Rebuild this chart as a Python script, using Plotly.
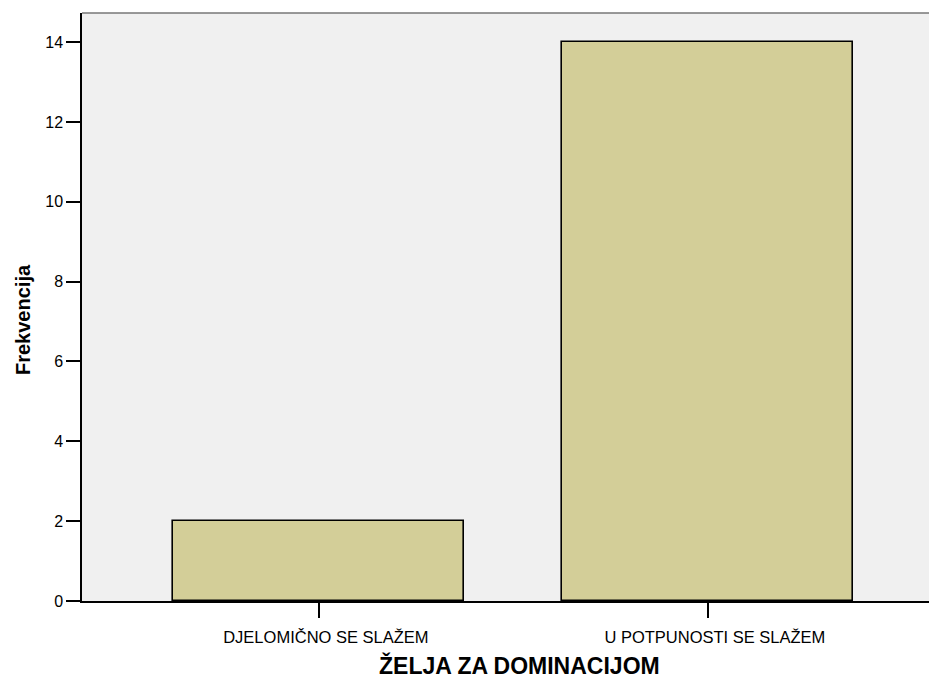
import plotly.graph_objects as go

# categories and frequencies
categories = ["DJELOMIČNO SE SLAŽEM", "U POTPUNOSTI SE SLAŽEM"]
frequencies = [2, 14]
y_ticks = [0, 2, 4, 6, 8, 10, 12, 14]
x_title = "ŽELJA ZA DOMINACIJOM"
y_title = "Frekvencija"

fig = go.Figure()
fig.add_trace(go.Bar(
    x=categories,
    y=frequencies,
    width=0.748,
    marker=dict(color="#D3CE98", line=dict(color="#000000", width=1.6)),
))

# the page body adds an 8px margin, so the figure is a bit smaller and shifted
fig.update_layout(
    width=929,
    height=676,
    margin=dict(l=74, r=0, t=5, b=83),
    paper_bgcolor="white",
    plot_bgcolor="#F0F0F0",
    font=dict(family="Liberation Sans, Arial", color="#000000"),
    showlegend=False,
    bargap=0,
)

fig.update_xaxes(
    range=[-0.609, 1.589],
    showline=True, linecolor="#000000", linewidth=1.5,
    ticks="outside", ticklen=15, tickwidth=2, tickcolor="#000000",
    tickfont=dict(size=16.5),
    ticklabelstandoff=5,
    ticklabelshift=7,
    showgrid=False,
)
fig.update_yaxes(
    range=[0, 14.73],
    tickvals=y_ticks,
    showline=True, linecolor="#000000", linewidth=1.5,
    ticks="outside", ticklen=14, tickwidth=1.5, tickcolor="#000000",
    tickfont=dict(size=16),
    ticklabelstandoff=0,
    showgrid=False, zeroline=False,
)

# axis titles are a bit off-centre in the original, so they are annotations
fig.add_annotation(text="<b>" + x_title + "</b>", xref="paper", yref="paper",
                   x=0.5, y=0, xanchor="center", yanchor="middle",
                   xshift=10, yshift=-64, showarrow=False, font=dict(size=23))
fig.add_annotation(text="<b>" + y_title + "</b>", xref="paper", yref="paper",
                   x=0, y=0.5, xanchor="center", yanchor="middle", textangle=-90,
                   xshift=-59, yshift=-13, showarrow=False, font=dict(size=20))

# thin gray frame line along the top of the plot area
fig.add_shape(type="line", xref="paper", yref="paper", x0=0, x1=1, y0=1, y1=1,
              line=dict(color="#777777", width=1.5))

fig.write_html("out.html")
